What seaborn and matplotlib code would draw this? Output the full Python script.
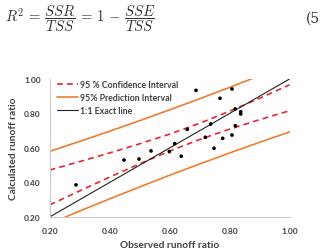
import seaborn as sns
import matplotlib.pyplot as plt

# observed vs calculated runoff ratio
observed = [0.288, 0.448, 0.498, 0.538, 0.599, 0.617, 0.639, 0.659, 0.688, 0.719,
            0.737, 0.748, 0.768, 0.777, 0.808, 0.808, 0.819, 0.819, 0.837, 0.837]
calculated = [0.386, 0.530, 0.536, 0.583, 0.579, 0.625, 0.552, 0.708, 0.934, 0.662,
              0.739, 0.598, 0.888, 0.656, 0.942, 0.675, 0.826, 0.729, 0.810, 0.797]

# interval curves read at a few x positions
band_x = [0.2, 0.3, 0.4, 0.5, 0.6, 0.7, 0.8, 0.9, 1.0]
ci_upper = [0.472, 0.521, 0.571, 0.624, 0.680, 0.743, 0.813, 0.888, 0.966]
ci_lower = [0.270, 0.351, 0.431, 0.508, 0.582, 0.649, 0.709, 0.764, 0.816]
pi_upper = [0.580, 0.638, 0.697, 0.758, 0.821, 0.885, 0.951, 1.019, 1.089]
pi_lower = [0.162, 0.234, 0.305, 0.374, 0.442, 0.507, 0.571, 0.633, 0.693]
exact_x = [0.2, 1.0]
exact_y = [0.2, 1.0]

ticks = [0.2, 0.4, 0.6, 0.8, 1.0]

sns.set_style("white")
plt.rcParams['font.family'] = ['Lato', 'DejaVu Sans']
plt.rcParams['mathtext.fontset'] = 'cm'

red = "#E8262E"
orange = "#ED7D31"
dark = "#404040"

fig = plt.figure(figsize=(3.2, 2.51), dpi=100)

# equation above the chart
fig.text(0.015, 0.925, r"$R^2 \,=\, \dfrac{SSR}{TSS} \,=\, 1 \,-\, \dfrac{SSE}{TSS}$",
         fontsize=10.5, color="#333333", va="center", ha="left")
fig.text(0.999, 0.925, "(5", fontsize=10, color="#333333", va="center",
         ha="right", family="DejaVu Serif")

ax = fig.add_axes([0.155, 0.1315, 0.75, 0.55])

sns.lineplot(x=band_x, y=ci_upper, ax=ax, color=red, lw=1.2,
             linestyle=(0, (3.5, 2.5)), label="95 % Confidence Interval")
sns.lineplot(x=band_x, y=ci_lower, ax=ax, color=red, lw=1.2,
             linestyle=(0, (3.5, 2.5)), label="_nolegend_")
sns.lineplot(x=band_x, y=pi_upper, ax=ax, color=orange, lw=1.2,
             label="95% Prediction Interval")
sns.lineplot(x=band_x, y=pi_lower, ax=ax, color=orange, lw=1.2,
             label="_nolegend_")
sns.lineplot(x=exact_x, y=exact_y, ax=ax, color="#222222", lw=0.8,
             label="1:1 Exact line")
sns.scatterplot(x=observed, y=calculated, ax=ax, color="black", s=7,
                edgecolor="none", zorder=5)

ax.set_xlim(0.2, 1.0)
ax.set_ylim(0.2, 1.0)
ax.set_xticks(ticks)
ax.set_yticks(ticks)
ax.set_xticklabels([f"{t:.2f}" for t in ticks], fontsize=6, fontweight="bold", color=dark)
ax.set_yticklabels([f"{t:.2f}" for t in ticks], fontsize=6, fontweight="bold", color=dark)
ax.tick_params(axis="both", length=2.5, width=0.6, color="#BFBFBF", pad=4)
ax.tick_params(axis="x", pad=5)

for side in ["top", "right"]:
    ax.spines[side].set_visible(False)
for side in ["left", "bottom"]:
    ax.spines[side].set_color("#C8C8C8")
    ax.spines[side].set_linewidth(0.7)

ax.set_xlabel("Observed runoff ratio", fontsize=7.3, fontweight="bold",
              color=dark, labelpad=4)
ax.set_ylabel("Calculated runoff ratio", fontsize=7.3, fontweight="bold",
              color=dark, labelpad=4)

ax.legend(loc="upper left", bbox_to_anchor=(0.0, 1.05), frameon=False,
          prop={"size": 6.3, "weight": "bold"}, handlelength=2.3,
          handletextpad=0.3, labelspacing=0.45, labelcolor=dark)

fig.savefig("out.png", dpi=100)
